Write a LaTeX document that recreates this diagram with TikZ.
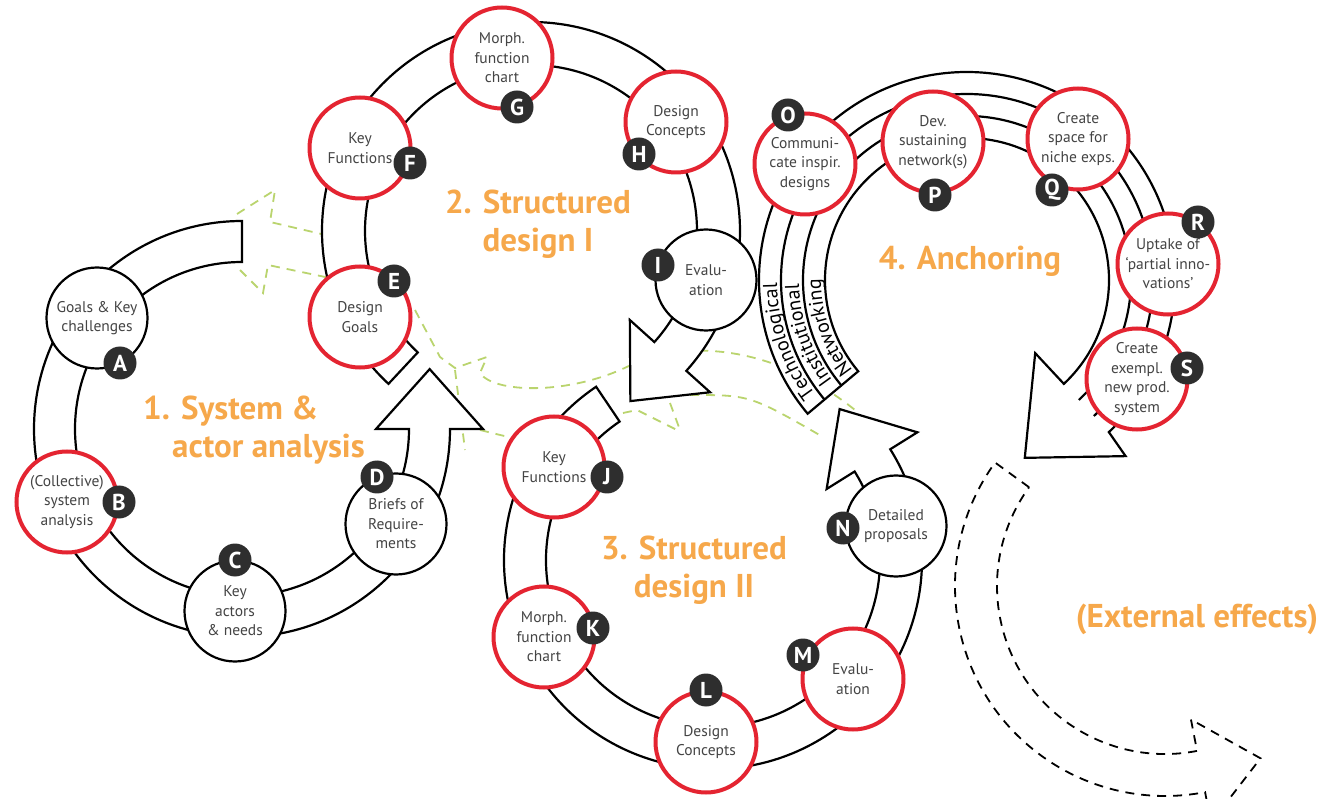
\documentclass[tikz,border=0pt]{standalone}
\usepackage{fontspec}
\setmainfont{PT Sans}
\usetikzlibrary{positioning,calc,decorations.text}

\definecolor{ringred}{HTML}{E42431}
\definecolor{phaseorange}{HTML}{F6A84B}
\definecolor{loopgreen}{HTML}{BAD46E}
\definecolor{badgegray}{HTML}{2E2E2E}
\definecolor{txtgray}{HTML}{444444}

\tikzset{
  task/.style={circle, draw=black, line width=2.2pt, fill=white, minimum size=101pt,
    inner sep=0pt, align=center, text=txtgray, font=\fontsize{15.5}{19.5}\selectfont},
  keytask/.style={task, draw=ringred, line width=4pt},
  badge/.style={circle, fill=badgegray, minimum size=33pt, inner sep=0pt,
    text=white, font=\fontsize{23}{23}\bfseries\selectfont},
  phase/.style={text=phaseorange, font=\fontsize{33}{38}\bfseries\selectfont, align=center, inner sep=0pt},
  band/.style={draw=black, line width=2.2pt, fill=white},
  feedback/.style={draw=loopgreen, line width=1.8pt, dash pattern=on 9pt off 7pt},
  external/.style={draw=black, line width=1.8pt, dash pattern=on 9pt off 7pt},
  lanetext/.style={decorate, decoration={text along path, text align=center,
    text={|\fontsize{20}{20}\selectfont\color{black}|#1}}}
}

\begin{document}
\begin{tikzpicture}[x=1pt,y=1pt]
  \clip (0,0) rectangle (1342,-799);

  % feedback loops (green, behind everything)
  \draw[feedback] (240,-270) -- (263,-293) -- (268,-265) -- (330,-278);
  \draw[feedback] (237,-214) -- (275,-190) -- (270,-222) -- (330,-236);
  \draw[feedback] (415,-310) -- (440,-357) -- (455,-368) -- (487,-357) -- (480,-373)
    .. controls (495,-395) and (580,-395) .. (640,-360) .. controls (700,-340) and (780,-350) .. (855,-410);
  \draw[feedback] (455,-370) -- (465,-450);
  \draw[feedback] (480,-430) .. controls (540,-445) .. (600,-430);
  \draw[feedback] (623,-413) -- (637,-410) -- (677,-430);
  \draw[feedback] (670,-403) -- (680,-430);
  \draw[feedback] (690,-395) .. controls (750,-395) .. (823,-437);

  % 1. system & actor analysis
  \begin{scope}[shift={(242,-429)}]
    \draw[band] (90:167) -- (90:208) arc[start angle=90, end angle=360, radius=208]
      -- (0:241) -- (17.7:197) -- (0:134) -- (0:167)
      arc[start angle=360, end angle=90, radius=167] -- cycle;
  \end{scope}
  % 2. structured design I
  \begin{scope}[shift={(531,-231)}]
    \draw[band] (227:166) -- (227:209) arc[start angle=227, end angle=-42, radius=209]
      -- (-42:241) -- (-59.7:197) -- (-42:133) -- (-42:166)
      arc[start angle=-42, end angle=227, radius=166] -- cycle;
  \end{scope}
  % 3. structured design II
  \begin{scope}[shift={(713,-560)}]
    \draw[band] (124:167) -- (124:209) arc[start angle=124, end angle=392, radius=209]
      -- (32:241) -- (50:197) -- (32:134) -- (32:167)
      arc[start angle=392, end angle=124, radius=167] -- cycle;
  \end{scope}
  % 4. anchoring, three lanes
  \begin{scope}[shift={(967,-280)}]
    \draw[band] (220:142) -- (220:208) arc[start angle=220, end angle=-47, radius=208]
      -- (-48:237) -- (-72:187) -- (-47:100) -- (-47:142)
      arc[start angle=-47, end angle=220, radius=142] -- cycle;
    \draw[band, fill=none] (220:186) arc[start angle=220, end angle=-47, radius=186];
    \draw[band, fill=none] (220:164) arc[start angle=220, end angle=-47, radius=164];
    \path[lanetext=Technological] (224:190) arc[start angle=224, end angle=174, radius=190];
    \path[lanetext=Institutional] (224:168) arc[start angle=224, end angle=174, radius=168];
    \path[lanetext=Networking] (224:146) arc[start angle=224, end angle=174, radius=146];
  \end{scope}
  % external effects
  \begin{scope}[shift={(1165,-586)}]
    \draw[external] (144:168) -- (144:210) arc[start angle=144, end angle=281, radius=210]
      -- (281:241) -- (299:197) -- (281:136) -- (281:168)
      arc[start angle=281, end angle=144, radius=168] -- cycle;
  \end{scope}

  % steps
  \node[task]    (goals)    at (97,-318)  {Goals \& Key\\challenges};
  \node[keytask] (sysana)   at (67,-502)  {(Collective)\\system\\analysis};
  \node[task]    (actors)   at (235,-611) {Key\\actors\\\& needs};
  \node[task]    (briefs)   at (396,-524) {Briefs of\\Require-\\ments};
  \node[keytask] (dgoals)   at (360,-317) {Design\\Goals};
  \node[keytask] (keyfun1)  at (360,-148) {Key\\Functions};
  \node[keytask] (morph1)   at (502,-58)  {Morph.\\function\\chart};
  \node[keytask] (concept1) at (676,-122) {Design\\Concepts};
  \node[task]    (eval1)    at (706,-280) {Evalu-\\ation};
  \node[keytask] (keyfun2)  at (554,-467) {Key\\Functions};
  \node[keytask] (morph2)   at (544,-637) {Morph.\\function\\chart};
  \node[keytask] (concept2) at (706,-742) {Design\\Concepts};
  \node[keytask] (eval2)    at (853,-679) {Evalu-\\ation};
  \node[task]    (detail)   at (896,-526) {Detailed\\proposals};
  \node[keytask] (commun)   at (805,-164) {Communi-\\cate inspir.\\designs};
  \node[keytask] (network)  at (933,-142) {Dev.\\sustaining\\network(s)};
  \node[keytask] (niche)    at (1078,-139) {Create\\space for\\niche exps.};
  \node[keytask] (uptake)   at (1168,-264) {Uptake of\\‘partial inno-\\vations’};
  \node[keytask] (exempl)   at (1137,-379) {Create\\exempl.\\new prod.\\system};

  % letters
  \node[badge] at (120,-363) {A};
  \node[badge] at (119,-502) {B};
  \node[badge] at (235,-560) {C};
  \node[badge] at (377,-477) {D};
  \node[badge] at (394,-281) {E};
  \node[badge] at (410,-163) {F};
  \node[badge] at (517,-107) {G};
  \node[badge] at (639,-154) {H};
  \node[badge] at (658,-265) {I};
  \node[badge] at (607,-477) {J};
  \node[badge] at (593,-628) {K};
  \node[badge] at (706,-690) {L};
  \node[badge] at (803,-655) {M};
  \node[badge] at (843,-528) {N};
  \node[badge] at (788,-115) {O};
  \node[badge] at (935,-195) {P};
  \node[badge] at (1052,-190) {Q};
  \node[badge] at (1198,-222) {R};
  \node[badge] at (1187,-368) {S};

  % phase titles
  \node[phase, align=left, anchor=west] (phase1) at (143,-430) {1. System \&\\\hspace*{29pt}actor analysis};
  \node[phase] (phase2) at (538,-224) {2. Structured\\design I};
  \node[phase] (phase3) at (694,-570) {3. Structured\\design II};
  \node[phase] (phase4) at (970,-261) {4. Anchoring};
  \node[phase] (extern) at (1197,-619) {(External effects)};
\end{tikzpicture}
\end{document}
